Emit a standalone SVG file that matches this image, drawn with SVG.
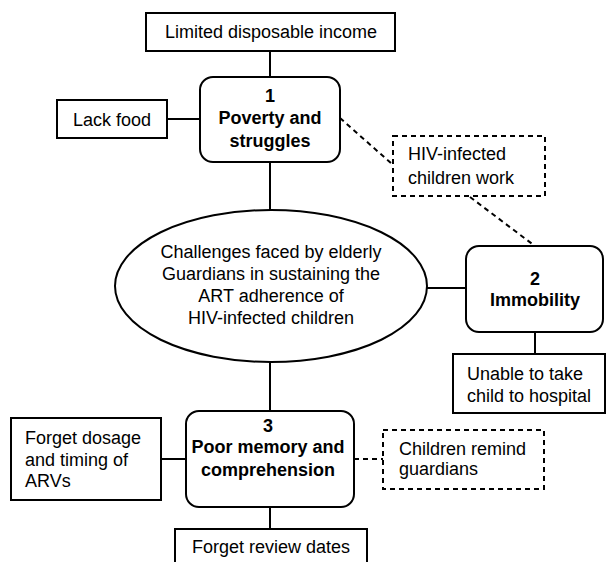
<svg xmlns="http://www.w3.org/2000/svg" width="606" height="562" viewBox="0 0 606 562">
<style>
.box{fill:#fff;stroke:#000;stroke-width:2}
.dbox{fill:#fff;stroke:#000;stroke-width:2;stroke-dasharray:5,4}
.ln{stroke:#000;stroke-width:2;fill:none}
.dln{stroke:#000;stroke-width:2;fill:none;stroke-dasharray:5,4}
text{font-family:"Liberation Sans",Arial,sans-serif;font-size:18px;fill:#000}
.c{text-anchor:middle}
.b{font-weight:bold}
</style>
<rect width="606" height="562" fill="#fff"/>
<g id="connectors">
<line class="ln" x1="270" y1="51" x2="270" y2="77"/>
<line class="ln" x1="167" y1="119" x2="200" y2="119"/>
<line class="dln" x1="340" y1="118" x2="392" y2="164"/>
<line class="ln" x1="270" y1="162" x2="270" y2="210"/>
<line class="dln" x1="470" y1="197" x2="535" y2="246"/>
<line class="ln" x1="427" y1="288" x2="466" y2="288"/>
<line class="ln" x1="535" y1="332" x2="535" y2="354"/>
<line class="ln" x1="270" y1="362" x2="270" y2="411"/>
<line class="ln" x1="161" y1="459" x2="186" y2="459"/>
<line class="dln" x1="354" y1="459" x2="383" y2="459"/>
<line class="ln" x1="270" y1="507" x2="270" y2="529"/>
</g>
<g id="limited-income">
<rect class="box" x="146" y="13" width="249" height="38"/>
<text class="c" x="271" y="38">Limited disposable income</text>
</g>
<g id="lack-food">
<rect class="box" x="57" y="100" width="110" height="38"/>
<text class="c" x="112" y="126">Lack food</text>
</g>
<g id="poverty">
<rect class="box" x="200" y="77" width="140" height="85" rx="13"/>
<text class="c b" x="270" y="102">1</text>
<text class="c b" x="270" y="124">Poverty and</text>
<text class="c b" x="270" y="147">struggles</text>
</g>
<g id="children-work">
<rect class="dbox" x="393" y="136" width="152" height="60"/>
<text x="408" y="160">HIV-infected</text>
<text x="408" y="184">children work</text>
</g>
<g id="challenges">
<ellipse class="box" cx="271" cy="286" rx="156" ry="76"/>
<text class="c" x="271" y="258">Challenges faced by elderly</text>
<text class="c" x="271" y="280">Guardians in sustaining the</text>
<text class="c" x="271" y="302">ART adherence of</text>
<text class="c" x="271" y="324">HIV-infected children</text>
</g>
<g id="immobility">
<rect class="box" x="466" y="246" width="137" height="86" rx="13"/>
<text class="c b" x="535" y="285">2</text>
<text class="c b" x="535" y="306">Immobility</text>
</g>
<g id="unable">
<rect class="box" x="453" y="354" width="152" height="59"/>
<text x="467" y="380">Unable to take</text>
<text x="467" y="402">child to hospital</text>
</g>
<g id="memory">
<rect class="box" x="186" y="411" width="168" height="96" rx="13"/>
<text class="c b" x="268" y="432">3</text>
<text class="c b" x="268" y="453">Poor memory and</text>
<text class="c b" x="268" y="476">comprehension</text>
</g>
<g id="forget-dosage">
<rect class="box" x="11" y="418" width="150" height="82"/>
<text x="25" y="444">Forget dosage</text>
<text x="25" y="466">and timing of</text>
<text x="25" y="487">ARVs</text>
</g>
<g id="children-remind">
<rect class="dbox" x="383" y="430" width="161" height="59"/>
<text x="399" y="455">Children remind</text>
<text x="399" y="475">guardians</text>
</g>
<g id="forget-review">
<rect class="box" x="175" y="529" width="192" height="40"/>
<text class="c" x="271" y="553">Forget review dates</text>
</g>
</svg>
